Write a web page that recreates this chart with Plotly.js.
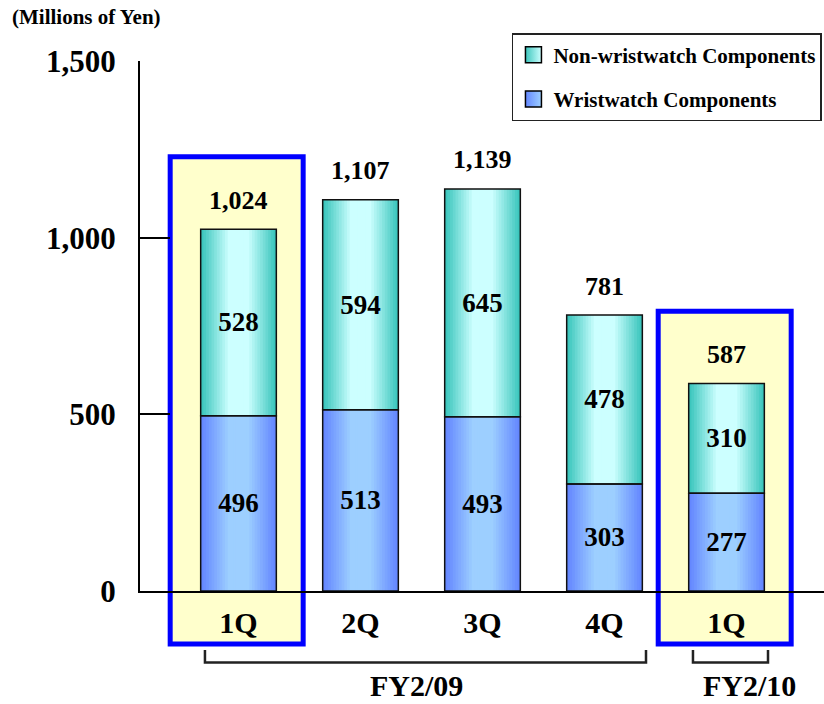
<!DOCTYPE html>
<html>
<head>
<meta charset="utf-8">
<script src="https://cdn.plot.ly/plotly-3.0.1.min.js"></script>
<style>
  html, body { margin: 0; padding: 0; background: #fff; }
  #chart { width: 824px; height: 704px; }
</style>
</head>
<body>
<div id="chart"></div>
<script>
// Quarterly component sales (millions of yen)
const categories = ['1Q', '2Q', '3Q', '4Q', '1Q'];
const wristwatch = [496, 513, 493, 303, 277];
const nonWristwatch = [528, 594, 645, 478, 310];
const totals = [1024, 1107, 1139, 781, 587];
const seriesNames = ['Non-wristwatch Components', 'Wristwatch Components'];
const highlighted = [0, 4];
const fiscalLabels = ['FY2/09', 'FY2/10'];
const fiscalFirst = [0, 4];
const fiscalLast = [3, 4];
const yTicks = [0, 500, 1000, 1500];

const FONT = '"Liberation Serif", "Times New Roman", Times, serif';
const xIdx = categories.map((_, i) => i);
const BAR_W = 0.62;
const STEPS = 14;
const Y_MAX = 1500;
const PLOT_H = 530;            // plot area height in px
const toPaper = px => -px / PLOT_H; // px below the x axis -> paper y

const palette = {
  non:   { edge: '#3cc6bd', mid: '#ccffff' },
  wrist: { edge: '#6487ff', mid: '#9dcfff' }
};

function mix(a, b, t) {
  const pa = [1, 3, 5].map(i => parseInt(a.substr(i, 2), 16));
  const pb = [1, 3, 5].map(i => parseInt(b.substr(i, 2), 16));
  return 'rgb(' + pa.map((v, j) => Math.round(v + (pb[j] - v) * t)).join(',') + ')';
}

// Nested overlaid bars of shrinking width give each column a cylinder-like shading
function shadedLayers(values, base, pal) {
  const out = [];
  for (let k = 0; k < STEPS; k++) {
    const t = Math.min(1, k / (STEPS - 4));
    out.push({
      type: 'bar', x: xIdx, y: values, base: base,
      width: BAR_W * (1 - k / STEPS),
      marker: { color: mix(pal.edge, pal.mid, t), line: { width: 0 } },
      showlegend: false, hoverinfo: 'skip'
    });
  }
  return out;
}

// Outline plus value label for each segment
function outlined(values, base) {
  return {
    type: 'bar', x: xIdx, y: values, base: base, width: BAR_W,
    marker: { color: 'rgba(0,0,0,0)', line: { color: '#111', width: 1.5 } },
    text: values.map(String),
    textposition: 'inside', insidetextanchor: 'middle', textangle: 0,
    constraintext: 'none',
    textfont: { family: FONT, size: 27, color: '#000', weight: 'bold' },
    showlegend: false, hoverinfo: 'skip'
  };
}

function legendEntry(name, pal, group) {
  return {
    type: 'scatter', mode: 'markers', x: [null], y: [null],
    name: name, legendgroup: group,
    marker: { symbol: 'square', size: 16, color: pal.edge,
              gradient: { type: 'horizontal', color: pal.mid },
              line: { color: '#000', width: 1.5 } },
    hoverinfo: 'skip'
  };
}

const zeros = wristwatch.map(() => 0);
const data = [
  ...shadedLayers(wristwatch, zeros, palette.wrist),
  ...shadedLayers(nonWristwatch, wristwatch, palette.non),
  outlined(wristwatch, zeros),
  outlined(nonWristwatch, wristwatch),
  legendEntry(seriesNames[0], palette.non, 'non'),
  legendEntry(seriesNames[1], palette.wrist, 'wrist')
];

// Yellow frames around the first quarter of each fiscal year
const BOX_HEADROOM = 205;
const shapes = highlighted.map(i => ({
  type: 'rect', xref: 'x', yref: 'paper', layer: 'below',
  x0: i - 0.56, x1: i + 0.53,
  y0: toPaper(53), y1: (totals[i] + BOX_HEADROOM) / Y_MAX,
  fillcolor: '#ffffcc', line: { color: '#0000ff', width: 5 }
}));

// Brackets grouping quarters by fiscal year
const legTop = toPaper(59), legBottom = toPaper(71.5);
fiscalFirst.forEach((f, j) => {
  const a = f - 0.275, b = fiscalLast[j] + 0.34;
  shapes.push({
    type: 'path', xref: 'x', yref: 'paper',
    path: `M ${a},${legTop} L ${a},${legBottom} L ${b},${legBottom} L ${b},${legTop}`,
    line: { color: '#222', width: 2.5 }
  });
});

const fiscalCenters = [1.455, 4.19];
const annotations = [
  ...totals.map((v, i) => ({
    x: i, y: v, xref: 'x', yref: 'y', yshift: 29, yanchor: 'middle',
    text: v.toLocaleString('en-US'), showarrow: false,
    font: { family: FONT, size: 26, color: '#000', weight: 'bold' }
  })),
  ...fiscalLabels.map((t, j) => ({
    x: fiscalCenters[j], y: toPaper(94), xref: 'x', yref: 'paper',
    yanchor: 'middle', text: t, showarrow: false,
    font: { family: FONT, size: 30, color: '#000', weight: 'bold' }
  })),
  {
    x: -0.19, y: 1.083, xref: 'paper', yref: 'paper',
    xanchor: 'left', yanchor: 'middle', showarrow: false,
    text: '(Millions of Yen)',
    font: { family: FONT, size: 21, color: '#000', weight: 'bold' }
  }
];

const layout = {
  width: 824, height: 704,
  margin: { l: 140, r: 0, t: 61, b: 113, pad: 0 },
  paper_bgcolor: '#ffffff', plot_bgcolor: 'rgba(0,0,0,0)',
  barmode: 'overlay',
  font: { family: FONT, color: '#000' },
  xaxis: {
    range: [-0.8074, 4.799], tickvals: xIdx, ticktext: categories,
    ticks: '', showline: true, linecolor: '#000', linewidth: 2,
    showgrid: false, zeroline: false, ticklabelstandoff: 4,
    tickfont: { family: FONT, size: 30, color: '#000', weight: 'bold' }
  },
  yaxis: {
    range: [0, Y_MAX], tickvals: yTicks, tickformat: ',d',
    ticks: 'inside', ticklen: 30, tickwidth: 2, tickcolor: '#000',
    showline: true, linecolor: '#000', linewidth: 2,
    showgrid: false, zeroline: false, ticklabelstandoff: 16,
    tickfont: { family: FONT, size: 31, color: '#000', weight: 'bold' }
  },
  legend: {
    x: 0.997, xanchor: 'right', y: 1.0528, yanchor: 'top',
    bgcolor: '#ffffff', bordercolor: '#222', borderwidth: 1.5,
    tracegroupgap: 14,
    font: { family: FONT, size: 21, color: '#000', weight: 'bold' }
  },
  shapes: shapes,
  annotations: annotations,
  showlegend: true
};

Plotly.newPlot('chart', data, layout, { displayModeBar: false, staticPlot: true });
</script>
</body>
</html>
